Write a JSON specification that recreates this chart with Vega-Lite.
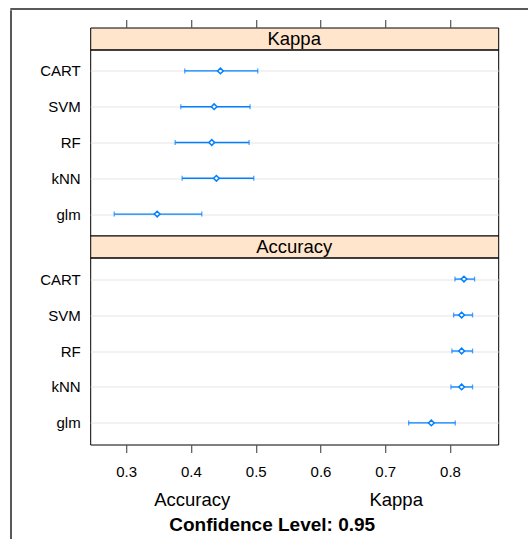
{
  "$schema": "https://vega.github.io/schema/vega-lite/v6.json",
  "padding": {"left": 10, "top": 8, "right": 0, "bottom": 0},
  "spacing": 0,
  "datasets": {
    "ci": [
      {"metric": "Kappa", "model": "CART", "est": 0.4455, "lower": 0.3904, "upper": 0.5031},
      {"metric": "Kappa", "model": "SVM", "est": 0.4358, "lower": 0.3843, "upper": 0.4913},
      {"metric": "Kappa", "model": "RF", "est": 0.4321, "lower": 0.3756, "upper": 0.4898},
      {"metric": "Kappa", "model": "kNN", "est": 0.4393, "lower": 0.3864, "upper": 0.4970},
      {"metric": "Kappa", "model": "glm", "est": 0.3478, "lower": 0.2815, "upper": 0.4167},
      {"metric": "Accuracy", "model": "CART", "est": 0.8216, "lower": 0.8077, "upper": 0.8380},
      {"metric": "Accuracy", "model": "SVM", "est": 0.8180, "lower": 0.8056, "upper": 0.8349},
      {"metric": "Accuracy", "model": "RF", "est": 0.8180, "lower": 0.8030, "upper": 0.8349},
      {"metric": "Accuracy", "model": "kNN", "est": 0.8180, "lower": 0.8015, "upper": 0.8349},
      {"metric": "Accuracy", "model": "glm", "est": 0.7712, "lower": 0.7362, "upper": 0.8082}
    ]
  },
  "config": {
    "font": "Liberation Sans",
    "view": {"stroke": "#000", "strokeWidth": 1},
    "axisX": {"domain": false, "grid": false, "tickSize": 8, "tickColor": "#555", "tickWidth": 1.2, "labelFontSize": 15, "labelColor": "#000", "labelPadding": 12},
    "axisY": {"domain": false, "ticks": false, "labelFontSize": 15, "labelColor": "#000", "labelPadding": 10, "grid": true, "gridColor": "#e6e6e6", "gridWidth": 1.2},
    "tick": {"thickness": 1.3, "size": 5}
  },
  "vconcat": [
    {
      "width": 518, "height": 0.01,
      "data": {"values": []},
      "mark": "rule",
      "encoding": {},
      "view": {"stroke": "#222", "strokeWidth": 1.5}
    },
    {
      "spacing": 26.2,
      "hconcat": [
        {
          "width": 0.01, "height": 531,
          "data": {"values": []},
          "mark": "rule",
          "encoding": {},
          "view": {"stroke": "#222", "strokeWidth": 1.5}
        },
        {
          "spacing": 5.5,
          "vconcat": [
            {
              "width": 1, "height": 0.01,
              "data": {"values": []},
              "mark": "rule",
              "encoding": {},
              "view": {"stroke": null}
            },
            {
              "spacing": 9.8,
              "vconcat": [
                {
                  "bounds": "flush",
                  "spacing": 0,
                  "vconcat": [
                    {
                      "width": 408, "height": 22,
                      "data": {"name": "ci"},
                      "transform": [{"filter": "datum.metric === 'Kappa'"}, {"aggregate": [{"op": "count", "as": "n"}], "groupby": ["metric"]}],
                      "mark": {"type": "text", "fontSize": 18.5, "color": "#000", "baseline": "middle"},
                      "encoding": {"text": {"field": "metric"}},
                      "view": {"fill": "#ffe5cc", "stroke": "#000"}
                    },
                    {
                      "width": 408, "height": 186,
                      "data": {"name": "ci"},
                      "transform": [{"filter": "datum.metric === 'Kappa'"}],
                      "encoding": {
                        "y": {"field": "model", "type": "nominal", "sort": ["CART", "SVM", "RF", "kNN", "glm"], "scale": {"type": "point", "padding": 0.6}, "axis": {"title": null}}
                      },
                      "layer": [
                        {
                          "mark": {"type": "rule", "color": "#0080ff", "strokeWidth": 1.3},
                          "encoding": {
                            "x": {"field": "lower", "type": "quantitative", "scale": {"domain": [0.2444, 0.8745], "nice": false, "zero": false}, "axis": {"title": null, "orient": "top", "offset": 22, "labels": false, "values": [0.3, 0.4, 0.5, 0.6, 0.7, 0.8]}},
                            "x2": {"field": "upper"}
                          }
                        },
                        {
                          "mark": {"type": "tick", "color": "#0080ff"},
                          "encoding": {
                            "x": {"field": "lower", "type": "quantitative", "scale": {"domain": [0.2444, 0.8745], "nice": false, "zero": false}, "axis": {"title": null, "orient": "top", "offset": 22, "labels": false, "values": [0.3, 0.4, 0.5, 0.6, 0.7, 0.8]}}
                          }
                        },
                        {
                          "mark": {"type": "tick", "color": "#0080ff"},
                          "encoding": {
                            "x": {"field": "upper", "type": "quantitative", "scale": {"domain": [0.2444, 0.8745], "nice": false, "zero": false}, "axis": {"title": null, "orient": "top", "offset": 22, "labels": false, "values": [0.3, 0.4, 0.5, 0.6, 0.7, 0.8]}}
                          }
                        },
                        {
                          "mark": {"type": "point", "shape": "diamond", "filled": true, "fill": "#ffffff", "stroke": "#0080ff", "strokeWidth": 1.5, "size": 32, "opacity": 1},
                          "encoding": {
                            "x": {"field": "est", "type": "quantitative", "scale": {"domain": [0.2444, 0.8745], "nice": false, "zero": false}, "axis": {"title": null, "orient": "top", "offset": 22, "labels": false, "values": [0.3, 0.4, 0.5, 0.6, 0.7, 0.8]}}
                          }
                        }
                      ]
                    },
                    {
                      "width": 408, "height": 22,
                      "data": {"name": "ci"},
                      "transform": [{"filter": "datum.metric === 'Accuracy'"}, {"aggregate": [{"op": "count", "as": "n"}], "groupby": ["metric"]}],
                      "mark": {"type": "text", "fontSize": 18.5, "color": "#000", "baseline": "middle"},
                      "encoding": {"text": {"field": "metric"}},
                      "view": {"fill": "#ffe5cc", "stroke": "#000"}
                    },
                    {
                      "width": 408, "height": 187,
                      "data": {"name": "ci"},
                      "transform": [{"filter": "datum.metric === 'Accuracy'"}],
                      "encoding": {
                        "y": {"field": "model", "type": "nominal", "sort": ["CART", "SVM", "RF", "kNN", "glm"], "scale": {"type": "point", "padding": 0.6}, "axis": {"title": null}}
                      },
                      "layer": [
                        {
                          "mark": {"type": "rule", "color": "#0080ff", "strokeWidth": 1.3},
                          "encoding": {
                            "x": {"field": "lower", "type": "quantitative", "scale": {"domain": [0.2444, 0.8745], "nice": false, "zero": false}, "axis": {"title": null, "orient": "bottom", "format": ".1f", "values": [0.3, 0.4, 0.5, 0.6, 0.7, 0.8]}},
                            "x2": {"field": "upper"}
                          }
                        },
                        {
                          "mark": {"type": "tick", "color": "#0080ff"},
                          "encoding": {
                            "x": {"field": "lower", "type": "quantitative", "scale": {"domain": [0.2444, 0.8745], "nice": false, "zero": false}, "axis": {"title": null, "orient": "bottom", "format": ".1f", "values": [0.3, 0.4, 0.5, 0.6, 0.7, 0.8]}}
                          }
                        },
                        {
                          "mark": {"type": "tick", "color": "#0080ff"},
                          "encoding": {
                            "x": {"field": "upper", "type": "quantitative", "scale": {"domain": [0.2444, 0.8745], "nice": false, "zero": false}, "axis": {"title": null, "orient": "bottom", "format": ".1f", "values": [0.3, 0.4, 0.5, 0.6, 0.7, 0.8]}}
                          }
                        },
                        {
                          "mark": {"type": "point", "shape": "diamond", "filled": true, "fill": "#ffffff", "stroke": "#0080ff", "strokeWidth": 1.5, "size": 32, "opacity": 1},
                          "encoding": {
                            "x": {"field": "est", "type": "quantitative", "scale": {"domain": [0.2444, 0.8745], "nice": false, "zero": false}, "axis": {"title": null, "orient": "bottom", "format": ".1f", "values": [0.3, 0.4, 0.5, 0.6, 0.7, 0.8]}}
                          }
                        }
                      ]
                    }
                  ]
                },
                {
                  "width": 408, "height": 20,
                  "data": {"name": "ci"},
                  "transform": [{"aggregate": [{"op": "count", "as": "n"}], "groupby": ["metric"]}],
                  "mark": {"type": "text", "fontSize": 18.5, "color": "#000", "baseline": "middle"},
                  "encoding": {
                    "x": {"field": "metric", "type": "nominal", "sort": "ascending", "scale": {"type": "point", "padding": 0.5}, "axis": null},
                    "text": {"field": "metric"}
                  },
                  "view": {"stroke": null},
                  "title": {"text": "Confidence Level: 0.95", "orient": "bottom", "fontSize": 19, "fontWeight": "bold", "color": "#000", "offset": 6, "dx": -22}
                }
              ]
            }
          ]
        }
      ]
    }
  ]
}
